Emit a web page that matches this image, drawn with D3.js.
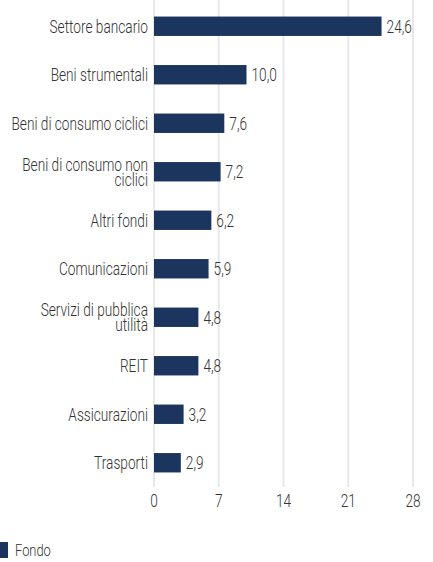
<!DOCTYPE html>
<head>
  <meta charset="utf-8">
  <title>settori</title>
  <script src="https://cdn.jsdelivr.net/npm/d3@7"></script>
  <style>
    body { margin: 0; background: #fff; }
    text {
      font-family: Roboto, sans-serif;
      font-weight: 300;
      font-size: 18px;
      fill: #333;
    }
  </style>
</head>
<body>
<script>
  var categories = [
    ["Settore bancario"],
    ["Beni strumentali"],
    ["Beni di consumo ciclici"],
    ["Beni di consumo non", "ciclici"],
    ["Altri fondi"],
    ["Comunicazioni"],
    ["Servizi di pubblica", "utilità"],
    ["REIT"],
    ["Assicurazioni"],
    ["Trasporti"]
  ];
  var values = [24.6, 10.0, 7.6, 7.2, 6.2, 5.9, 4.8, 4.8, 3.2, 2.9];
  var ticks = [0, 7, 14, 21, 28];
  var seriesName = "Fondo";

  var W = 433, H = 562;
  var mLeft = 154, mRight = 413, mTop = 2, mBottom = 487;
  var barColor = "#1c355e";
  var sx = 0.76; // narrow the glyphs, the original face is condensed

  var svg = d3.select("body").append("svg")
    .attr("width", W).attr("height", H);

  var x = d3.scaleLinear().domain([0, 28]).range([mLeft, mRight]);
  var y = d3.scaleBand().domain(d3.range(values.length))
    .range([mTop, mBottom]).paddingInner(0.6).paddingOuter(0.3);

  function place(px, py) {
    return "translate(" + px + "," + py + ") scale(" + sx + ",1)";
  }

  // gridlines
  svg.selectAll("line.grid").data(ticks).enter().append("line")
    .attr("class", "grid")
    .attr("x1", d => x(d)).attr("x2", d => x(d))
    .attr("y1", 0).attr("y2", mBottom)
    .style("stroke", "#e8e8e8").style("stroke-width", 2);

  // tick labels
  svg.selectAll("text.tick").data(ticks).enter().append("text")
    .attr("class", "tick")
    .attr("transform", d => place(x(d), 507))
    .attr("text-anchor", "middle")
    .text(d => d);

  // bars
  svg.selectAll("rect.bar").data(values).enter().append("rect")
    .attr("class", "bar")
    .attr("x", x(0))
    .attr("y", (d, i) => y(i))
    .attr("width", d => x(d) - x(0))
    .attr("height", y.bandwidth())
    .style("fill", barColor);

  // value labels
  svg.selectAll("text.val").data(values).enter().append("text")
    .attr("class", "val")
    .attr("transform", (d, i) => place(x(d) + 5, y(i) + y.bandwidth() / 2))
    .attr("dy", "0.36em")
    .text(d => d.toFixed(1).replace(".", ","));

  // category labels
  var lab = svg.selectAll("text.cat").data(categories).enter().append("text")
    .attr("class", "cat")
    .attr("text-anchor", "end")
    .attr("transform", (d, i) => place(148, y(i) + y.bandwidth() / 2));
  lab.each(function(d) {
    var lh = 15;
    var y0 = -(d.length - 1) * lh / 2;
    d3.select(this).selectAll("tspan").data(d).enter().append("tspan")
      .attr("x", 0)
      .attr("y", (t, j) => y0 + j * lh)
      .attr("dy", "0.36em")
      .text(t => t);
  });

  // legend
  svg.append("rect")
    .attr("x", 0).attr("y", 542).attr("width", 8).attr("height", 16)
    .style("fill", barColor);
  svg.append("text")
    .attr("transform", place(15, 550))
    .attr("dy", "0.36em")
    .style("font-size", "17px")
    .text(seriesName);
</script>
</body>
